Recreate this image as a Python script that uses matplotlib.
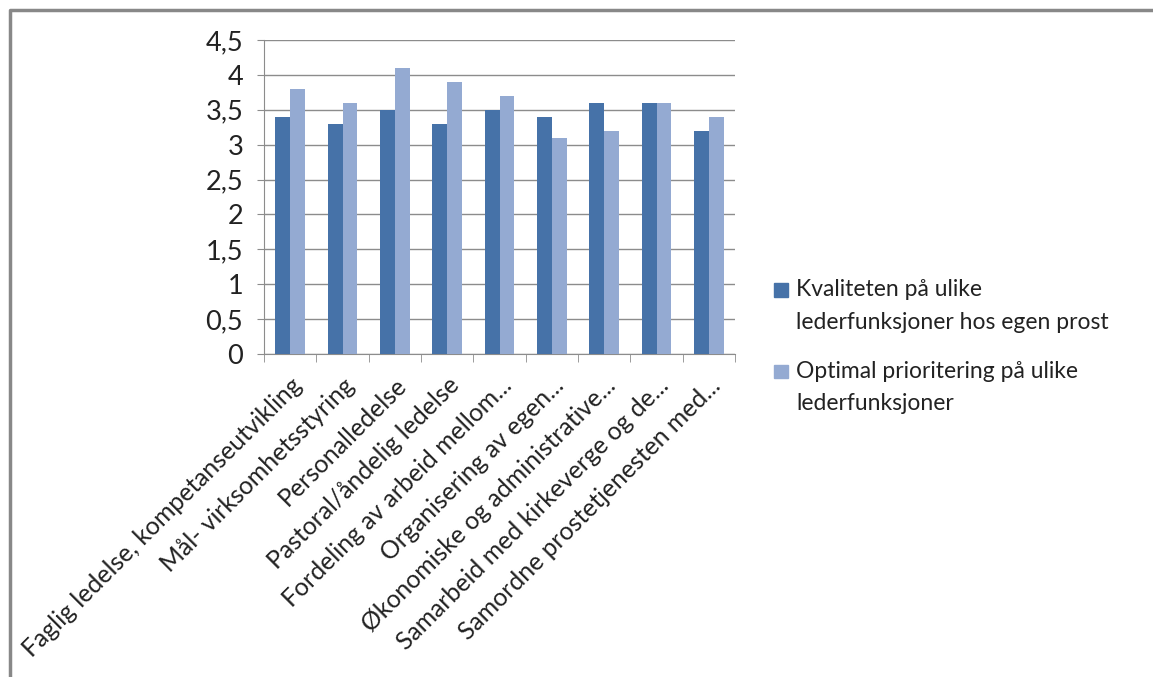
import numpy as np
import matplotlib.pyplot as plt
from matplotlib.lines import Line2D
from matplotlib.patches import Patch, Rectangle
from matplotlib.legend_handler import HandlerPatch

plt.rcParams['font.family'] = ['Lato', 'DejaVu Sans']

kategorier = ["Faglig ledelse, kompetanseutvikling",
              "Mål- virksomhetsstyring",
              "Personalledelse",
              "Pastoral/åndelig ledelse",
              "Fordeling av arbeid mellom...",
              "Organisering av egen...",
              "Økonomiske og administrative...",
              "Samarbeid med kirkeverge og de...",
              "Samordne prostetjenesten med..."]
kvalitet = [3.4, 3.3, 3.5, 3.3, 3.5, 3.4, 3.6, 3.6, 3.2]
optimal = [3.8, 3.6, 4.1, 3.9, 3.7, 3.1, 3.2, 3.6, 3.4]
serie_navn = ["Kvaliteten på ulike\nlederfunksjoner hos egen prost",
              "Optimal prioritering på ulike\nlederfunksjoner"]
yticks = [0, 0.5, 1, 1.5, 2, 2.5, 3, 3.5, 4, 4.5]
ytick_labels = ["0", "0,5", "1", "1,5", "2", "2,5", "3", "3,5", "4", "4,5"]

farge1 = '#4672A8'
farge2 = '#94AAD2'
grid_farge = '#8c8c8c'
tekst_farge = '#222222'

fig = plt.figure(figsize=(11.53, 6.77), dpi=100)
ax = fig.add_axes([264/1153, 1-354/677, 471/1153, 314/677])

x = np.arange(len(kategorier))
b = 0.286
ax.bar(x - b/2, kvalitet, b, color=farge1, zorder=3)
ax.bar(x + b/2, optimal, b, color=farge2, zorder=3)

ax.set_xlim(-0.5, len(kategorier) - 0.5)
ax.set_ylim(0, 4.5)
ax.set_yticks(yticks)
ax.set_yticklabels(ytick_labels, fontsize=19.5, color=tekst_farge)
ax.yaxis.grid(True, color=grid_farge, linewidth=1, zorder=0)

# streker mellom kategoriene
ax.set_xticks(np.arange(len(kategorier) + 1) - 0.5, minor=True)
ax.set_xticks(x)
ax.set_xticklabels(kategorier, rotation=45, ha='right', rotation_mode='anchor',
                   fontsize=17.8, color=tekst_farge)
ax.tick_params(axis='x', which='major', length=0, pad=14)
ax.tick_params(axis='x', which='minor', length=6, color=grid_farge)
ax.tick_params(axis='y', length=5, color=grid_farge, pad=10)

for s in ['top', 'right']:
    ax.spines[s].set_visible(False)
ax.spines['left'].set_color(grid_farge)
ax.spines['bottom'].set_color(grid_farge)


# firkant ved første tekstlinje, ikke midt på to linjer
def topp_firkant(legend, orig_handle, xdescent, ydescent, width, height, fontsize):
    side = width
    return Rectangle((-xdescent, -ydescent + height - side + 0.1*fontsize), side, side)


handles = [Patch(color=farge1), Patch(color=farge2)]
leg = fig.legend(handles, serie_navn, loc='upper left',
                 bbox_to_anchor=(765/1153, 1-270/677),
                 frameon=False, fontsize=16.5, handlelength=0.6, handleheight=2.6,
                 handletextpad=0.35, labelspacing=1.2, borderaxespad=0,
                 handler_map={Patch: HandlerPatch(patch_func=topp_firkant)})
for t in leg.get_texts():
    t.set_linespacing(1.7)
    t.set_color(tekst_farge)

# ramme rundt diagrammet (bare venstre og topp synlig)
fig.add_artist(Line2D([9.5/1153, 9.5/1153, 1], [0, 1-10/677, 1-10/677],
                      transform=fig.transFigure, color='#888888', linewidth=2.5))

fig.savefig('out.png', dpi=100)
